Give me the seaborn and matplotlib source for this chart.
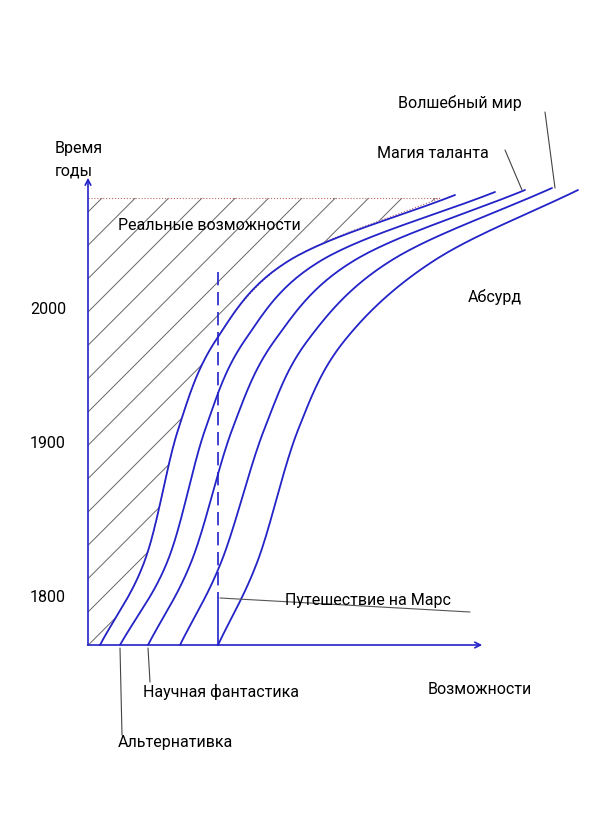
import numpy as np
import matplotlib
matplotlib.use("Agg")
import matplotlib.pyplot as plt
import seaborn as sns

sns.set_style("white")
plt.rcParams['font.family'] = ['Roboto', 'DejaVu Sans']

# curve control points in diagram units (x to the right, y downward like the drawing)
levels_y = [645, 560, 430, 340, 260]
curve_x = [
    [100, 145, 178, 216, 290],
    [120, 168, 205, 245, 322],
    [148, 192, 232, 275, 355],
    [180, 222, 264, 308, 392],
    [218, 258, 298, 345, 435],
]
curve_top = [(455, 195), (495, 192), (525, 190), (552, 188), (578, 190)]
hatch_x = [100, 145, 178, 216, 290, 440]
hatch_y = levels_y + [198]
tick_labels = ["1800", "1900", "2000"]
tick_y = [598, 443, 310]

def catmull(xs, ys, n=30):
    P = np.column_stack([xs, ys]).astype(float)
    P = np.vstack([2*P[0]-P[1], P, 2*P[-1]-P[-2]])
    out = []
    for i in range(1, len(P)-2):
        p0, p1, p2, p3 = P[i-1], P[i], P[i+1], P[i+2]
        for t in np.linspace(0, 1, n, endpoint=False):
            out.append(0.5*((2*p1) + (-p0+p2)*t + (2*p0-5*p1+4*p2-p3)*t**2 + (-p0+3*p1-3*p2+p3)*t**3))
    out.append(P[-2])
    out = np.array(out)
    return out[:, 0], out[:, 1]

fig = plt.figure(figsize=(5.91, 8.18), dpi=100)
ax = fig.add_axes([0, 0, 1, 1])
ax.set_xlim(0, 591); ax.set_ylim(818, 0); ax.axis('off')

blue = '#2323c8'
plt.rcParams['hatch.linewidth'] = 0.7
hx, hy = catmull(hatch_x, hatch_y)
order = np.argsort(hy)
ax.fill_betweenx(hy[order], 88, hx[order], facecolor='none', edgecolor='#666666', hatch='/', linewidth=0)
ax.plot(hx, hy, color='#bb6666', lw=0.8, ls=':')
ax.plot([88, 440], [198, 198], color='#bb6666', lw=0.8, ls=':')

for xs, top in zip(curve_x, curve_top):
    cx, cy = catmull(xs + [top[0]], levels_y + [top[1]])
    sns.lineplot(x=cx, y=cy, ax=ax, color=blue, lw=1.3, sort=False, estimator=None)

ax.annotate('', xy=(88, 175), xytext=(88, 648), arrowprops=dict(arrowstyle='->', color=blue, lw=1.2))
ax.annotate('', xy=(485, 645), xytext=(85, 645), arrowprops=dict(arrowstyle='->', color=blue, lw=1.2))

ax.plot([218, 218], [272, 598], color=blue, lw=1.2, ls=(0, (8, 4)))
ax.plot([218, 218], [598, 645], color=blue, lw=1.2)
ax.plot([220, 470], [598, 612], color='#555555', lw=0.8)

for (x0, y0, x1, y1) in [(120, 648, 122, 735), (148, 648, 150, 682), (505, 150, 522, 190), (545, 112, 555, 188)]:
    ax.plot([x0, x1], [y0, y1], color='#444444', lw=0.8)

fs = 11.5
kw = dict(fontsize=fs, va='center', color='black')
for t, y in zip(tick_labels, tick_y):
    ax.text(30, y, t, **kw)
ax.text(55, 160, "Время\nгоды", linespacing=1.6, **kw)
ax.text(118, 226, "Реальные возможности", **kw)
ax.text(468, 297, "Абсурд", **kw)
ax.text(428, 690, "Возможности", **kw)
ax.text(285, 600, "Путешествие на Марс", **kw)
ax.text(143, 692, "Научная фантастика", **kw)
ax.text(118, 743, "Альтернативка", **kw)
ax.text(377, 153, "Магия таланта", **kw)
ax.text(398, 103, "Волшебный мир", **kw)

fig.savefig("out.png", dpi=100)
